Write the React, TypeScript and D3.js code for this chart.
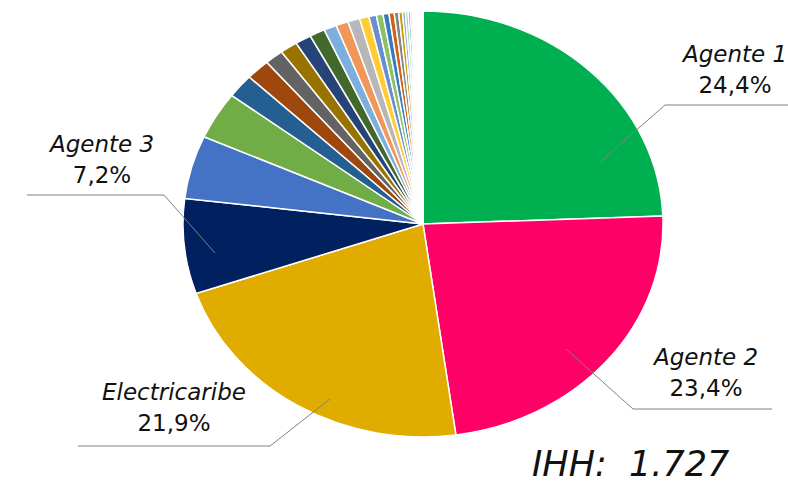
import React from "react";
import * as d3 from "d3";

// participación por agente (%), en orden horario desde las 12
const agentes = [
  "Agente 1", "Agente 2", "Electricaribe", "Agente 3",
  "Agente 5", "Agente 6", "Agente 7", "Agente 8", "Agente 9", "Agente 10",
  "Agente 11", "Agente 12", "Agente 13", "Agente 14", "Agente 15", "Agente 16",
  "Agente 17", "Agente 18", "Agente 19", "Agente 20", "Agente 21", "Agente 22",
  "Agente 23", "Agente 24", "Agente 25", "Agente 26", "Agente 27", "Agente 28",
  "Agente 29", "Agente 30", "Agente 31", "Agente 32", "Agente 33", "Agente 34",
  "Agente 35", "Agente 36", "Agente 37", "Agente 38",
];
const participacion = [
  24.4, 23.4, 21.9, 7.2,
  4.8, 3.6, 1.8, 1.6, 1.25, 1.17,
  1.08, 1.03, 0.86, 0.83, 0.8, 0.64,
  0.5, 0.45, 0.4, 0.35, 0.3, 0.25,
  0.2, 0.18, 0.15, 0.12, 0.1, 0.1,
  0.08, 0.08, 0.06, 0.06, 0.05, 0.05,
  0.04, 0.04, 0.03, 0.03,
];
const colores = [
  "#00B050", "#FF0066", "#E0AC00", "#002060",
  "#4472C4", "#70AD47", "#255E91", "#9E480E", "#636363", "#997300",
  "#264478", "#43682B", "#7CAFDD", "#F1975A", "#B7B7B7", "#FFCD33",
  "#698ED0", "#8CC168", "#327DC2", "#D26012", "#848484", "#CC9A00",
  "#8FAADC", "#A9D18E", "#5B9BD5", "#ED7D31", "#A5A5A5", "#FFC000",
  "#335AA1", "#5A8A39", "#9DC3E6", "#F4B183", "#C9C9C9", "#FFD966",
  "#4472C4", "#70AD47", "#ED7D31", "#5B9BD5",
];
const etiquetas = ["Agente 1", "Agente 2", "Agente 3", "Electricaribe"];
const indice = "IHH:  1.727";

// ubicación de etiquetas y líneas guía
const layout: Record<string, { x: number; y: number; line: [number, number][] }> = {
  "Agente 1": { x: 735, y: 62, line: [[600, 162], [665, 105], [788, 105]] },
  "Agente 2": { x: 706, y: 365, line: [[566, 349], [633, 409], [772, 409]] },
  "Agente 3": { x: 102, y: 152, line: [[27, 195], [164, 195], [215, 253]] },
  "Electricaribe": { x: 174, y: 400, line: [[78, 446], [270, 446], [330, 399]] },
};

export default function App() {
  const width = 788;
  const height = 481;
  const cx = 423;
  const cy = 224;
  const rx = 240;
  const ry = 213;

  const pie = d3.pie<number>().sort(null).value((d) => d);
  const arcs = pie(participacion);
  const arc = d3.arc<d3.PieArcDatum<number>>().innerRadius(0).outerRadius(rx);
  const line = d3.line();
  const fmt = (v: number) => v.toFixed(1).replace(".", ",") + "%";

  return (
    <svg
      width={width}
      height={height}
      style={{ position: "fixed", top: 0, left: 0, background: "white" }}
      fontFamily="'DejaVu Sans', sans-serif"
    >
      <g transform={`translate(${cx},${cy}) scale(1,${ry / rx})`}>
        {arcs.map((a, i) => (
          <path
            key={agentes[i]}
            d={arc(a) || ""}
            fill={colores[i]}
            stroke="white"
            strokeWidth={1.5}
            vectorEffect="non-scaling-stroke"
          />
        ))}
      </g>

      {etiquetas.map((name) => {
        const i = agentes.indexOf(name);
        const l = layout[name];
        return (
          <g key={name}>
            <path d={line(l.line) || ""} fill="none" stroke="#808080" strokeWidth={1} />
            <text x={l.x} y={l.y} textAnchor="middle" fontSize={23} fontStyle="italic" fill="#111">
              {name}
            </text>
            <text x={l.x} y={l.y + 31} textAnchor="middle" fontSize={23} fill="#111">
              {fmt(participacion[i])}
            </text>
          </g>
        );
      })}

      <text x={532} y={476} fontSize={35} fontStyle="italic" fill="#111" style={{ whiteSpace: "pre" }}>
        {indice}
      </text>
    </svg>
  );
}
